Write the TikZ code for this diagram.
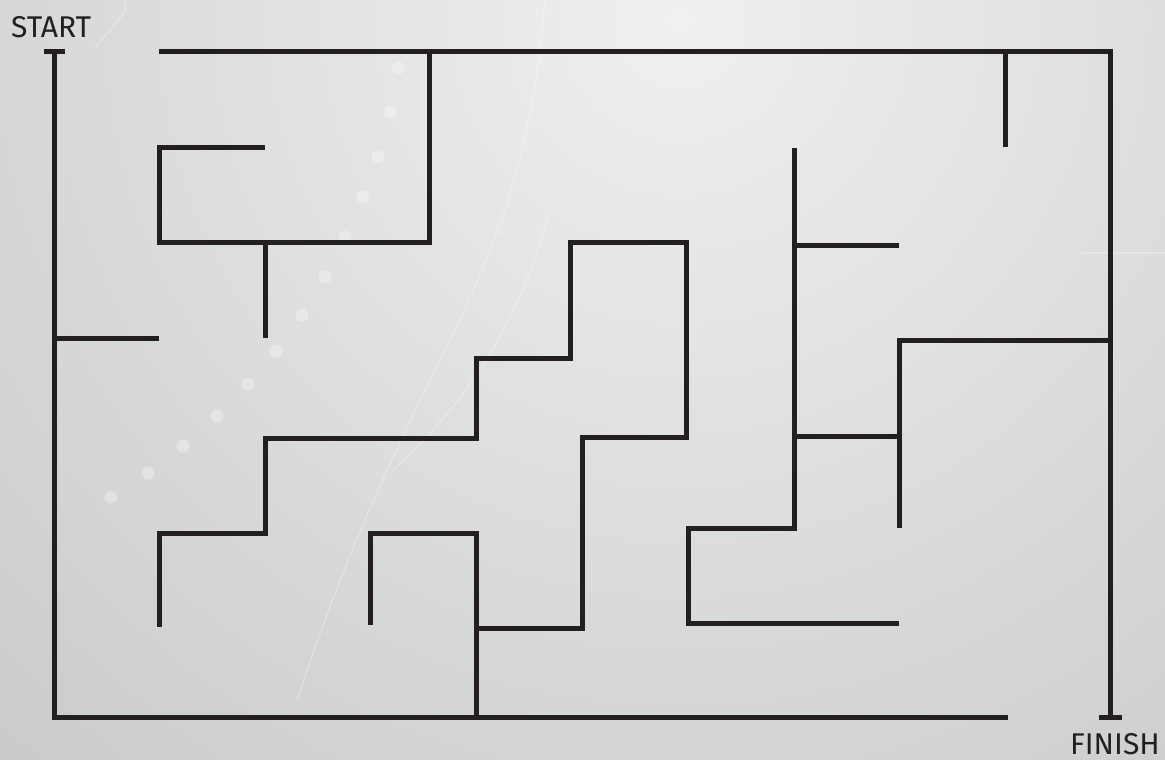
\documentclass[tikz,border=0pt]{standalone}
\usepackage{fontspec}
\setmainfont{Fira Sans}
\definecolor{wallink}{HTML}{231F20}
\definecolor{bglight}{HTML}{F0F0F1}
\definecolor{bgdark}{HTML}{C4C5C7}
\tikzset{
  wall/.style={draw=wallink,line width=5pt},
  faint/.style={draw=white,opacity=0.3,line width=1.2pt},
  mazelabel/.style={font=\fontsize{30}{30}\selectfont,text=wallink,inner sep=0pt}
}
\begin{document}
\begin{tikzpicture}[x=1pt,y=-1pt]
\useasboundingbox (0,0) rectangle (1165,760);
\begin{scope}
\clip (0,0) rectangle (1165,760);
\shade[inner color=bglight,outer color=bgdark] (680,20) circle (1150);
\draw[faint] (125,0) -- (125,12) -- (95,48);
\draw[faint] (545,0) .. controls (520,300) and (420,330) .. (297,700);
\draw[faint] (548,215) .. controls (520,320) and (470,400) .. (393,470);
\draw[faint] (1082,253) -- (1165,253);
\foreach \px/\py in {398/68,390/112,378/157,363/197,345/237,325/277,302/315,276/351,248/384,217/416,183/446,148/473,111/497}
  \fill[white,opacity=0.32] (\px,\py) circle (6.5);
\end{scope}

\node[mazelabel,anchor=south west] (start) at (11,38) {START};
\node[mazelabel,anchor=north east] (finish) at (1160,733) {FINISH};

\draw[wall] (44,52) -- (65,52);
\draw[wall] (54,52) -- (54,717) -- (1008,717);
\draw[wall] (159,52) -- (1110,52) -- (1110,717);
\draw[wall] (1099,717) -- (1122,717);
\draw[wall] (1005,52) -- (1005,147);
\draw[wall] (429,52) -- (429,242) -- (159,242) -- (159,147) -- (265,147);
\draw[wall] (265,242) -- (265,338);
\draw[wall] (54,338) -- (159,338);
\draw[wall] (159,627) -- (159,533) -- (265,533) -- (265,438) -- (476,438) -- (476,358)
  -- (570,358) -- (570,242) -- (686,242) -- (686,437) -- (582,437) -- (582,628) -- (476,628);
\draw[wall] (370,625) -- (370,533) -- (476,533) -- (476,717);
\draw[wall] (794,148) -- (794,528) -- (688,528) -- (688,623) -- (899,623);
\draw[wall] (794,245) -- (899,245);
\draw[wall] (794,436) -- (899,436);
\draw[wall] (899,528) -- (899,340) -- (1110,340);
\end{tikzpicture}
\end{document}
